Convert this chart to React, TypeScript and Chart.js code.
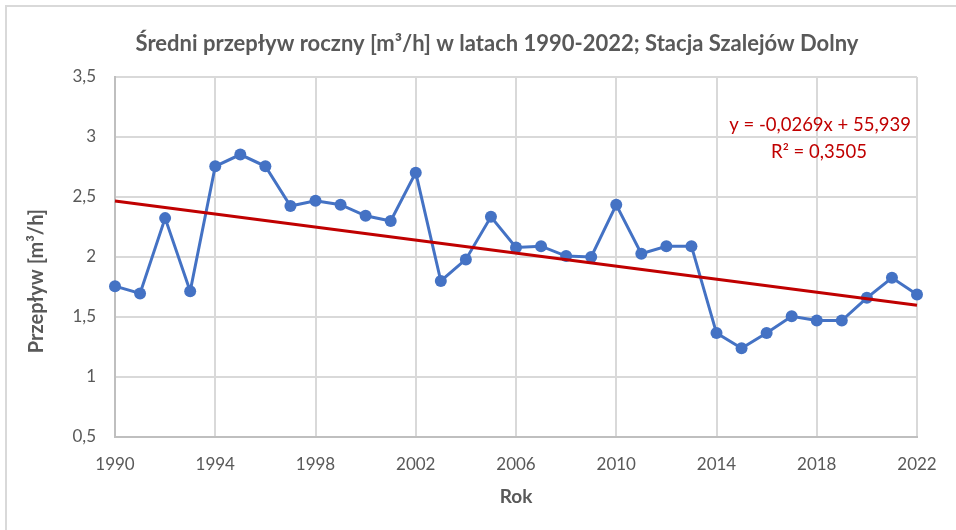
import React, { useEffect, useRef } from "react";
import { Chart, registerables } from "chart.js";

Chart.register(...registerables);

const years: number[] = [
  1990, 1991, 1992, 1993, 1994, 1995, 1996, 1997, 1998, 1999, 2000,
  2001, 2002, 2003, 2004, 2005, 2006, 2007, 2008, 2009, 2010, 2011,
  2012, 2013, 2014, 2015, 2016, 2017, 2018, 2019, 2020, 2021, 2022,
];
const flows: number[] = [
  1.757, 1.696, 2.324, 1.715, 2.756, 2.854, 2.756, 2.425, 2.469, 2.436, 2.343,
  2.3, 2.703, 1.8, 1.98, 2.335, 2.08, 2.09, 2.008, 2.0, 2.435, 2.028,
  2.09, 2.09, 1.366, 1.24, 1.366, 1.506, 1.47, 1.47, 1.66, 1.827, 1.688,
];
const yTicks: number[] = [0.5, 1, 1.5, 2, 2.5, 3, 3.5];
const xTicks: number[] = [1990, 1994, 1998, 2002, 2006, 2010, 2014, 2018, 2022];

const titleText = "Średni przepływ roczny [m³/h] w latach 1990-2022; Stacja Szalejów Dolny";
const xTitle = "Rok";
const yTitle = "Przepływ [m³/h]";
const eqText = "y = -0,0269x + 55,939";
const r2Text = "R² = 0,3505";

const FONT = "Lato, 'Noto Sans', sans-serif";
const GRAY = "#595959";

function regression(xs: number[], ys: number[]) {
  const n = xs.length;
  const mx = xs.reduce((a, b) => a + b, 0) / n;
  const my = ys.reduce((a, b) => a + b, 0) / n;
  let sxy = 0;
  let sxx = 0;
  for (let i = 0; i < n; i++) {
    sxy += (xs[i] - mx) * (ys[i] - my);
    sxx += (xs[i] - mx) * (xs[i] - mx);
  }
  const b = sxy / sxx;
  return { a: my - b * mx, b };
}

export default function App() {
  const ref = useRef<HTMLCanvasElement | null>(null);

  useEffect(() => {
    if (!ref.current) return;
    const { a, b } = regression(years, flows);
    const x0 = years[0];
    const x1 = years[years.length - 1];

    const textPlugin = {
      id: "texts",
      afterDraw(chart: any) {
        const ctx = chart.ctx;
        const area = chart.chartArea;
        ctx.save();
        ctx.fillStyle = "#d9d9d9";
        ctx.fillRect(5, 5, 2, 530);
        ctx.fillRect(5, 5, 956, 2);
        ctx.fillStyle = GRAY;
        ctx.textAlign = "center";
        ctx.textBaseline = "middle";
        ctx.font = `bold 22px ${FONT}`;
        ctx.fillText(titleText, 497, 44);
        ctx.font = `bold 19px ${FONT}`;
        ctx.fillText(xTitle, (area.left + area.right) / 2, 497);
        ctx.save();
        ctx.translate(37, 281);
        ctx.rotate(-Math.PI / 2);
        ctx.font = `bold 20px ${FONT}`;
        ctx.fillText(yTitle, 0, 0);
        ctx.restore();
        ctx.fillStyle = "#c00000";
        ctx.font = `18.5px ${FONT}`;
        ctx.fillText(eqText, 820, 125);
        ctx.fillText(r2Text, 819, 152);
        ctx.restore();
      },
    };

    const chart = new Chart(ref.current, {
      type: "line",
      data: {
        datasets: [
          {
            label: "trend",
            data: [
              { x: x0, y: a + b * x0 },
              { x: x1, y: a + b * x1 },
            ],
            borderColor: "#c00000",
            borderWidth: 3,
            pointRadius: 0,
            order: 0,
            clip: false,
          },
          {
            label: "Przepływ",
            data: years.map((y, i) => ({ x: y, y: flows[i] })),
            borderColor: "#4472c4",
            backgroundColor: "#4472c4",
            borderWidth: 3,
            pointRadius: 6,
            pointBorderWidth: 0,
            pointBackgroundColor: "#4472c4",
            order: 1,
            clip: false,
          },
        ],
      },
      options: {
        animation: false,
        responsive: false,
        maintainAspectRatio: false,
        layout: { padding: { left: 0, top: 77, right: 39, bottom: 0 } },
        plugins: {
          legend: { display: false },
          tooltip: { enabled: false },
          title: { display: false },
        },
        scales: {
          x: {
            type: "linear",
            min: x0,
            max: x1,
            afterFit: (s: any) => {
              s.height = 93;
            },
            afterBuildTicks: (s: any) => {
              s.ticks = xTicks.map((v) => ({ value: v }));
            },
            grid: { color: "#d9d9d9", lineWidth: 2, drawTicks: false },
            border: { color: "#bfbfbf", width: 2 },
            ticks: {
              color: GRAY,
              font: { family: FONT, size: 17 },
              padding: 17,
              maxRotation: 0,
              callback: (v: any) => String(v),
            },
          },
          y: {
            type: "linear",
            min: yTicks[0],
            max: yTicks[yTicks.length - 1],
            afterFit: (s: any) => {
              s.width = 115;
            },
            afterBuildTicks: (s: any) => {
              s.ticks = yTicks.map((v) => ({ value: v }));
            },
            grid: { color: "#d9d9d9", lineWidth: 2, drawTicks: false },
            border: { color: "#bfbfbf", width: 2 },
            ticks: {
              color: GRAY,
              font: { family: FONT, size: 17 },
              padding: 19,
              callback: (v: any) => String(v).replace(".", ","),
            },
          },
        },
      },
      plugins: [textPlugin],
    });
    return () => chart.destroy();
  }, []);

  return (
    <div style={{ position: "fixed", left: 0, top: 0, width: 956, height: 530, background: "#fff" }}>
      <canvas ref={ref} width={956} height={530} style={{ width: 956, height: 530 }} />
    </div>
  );
}
